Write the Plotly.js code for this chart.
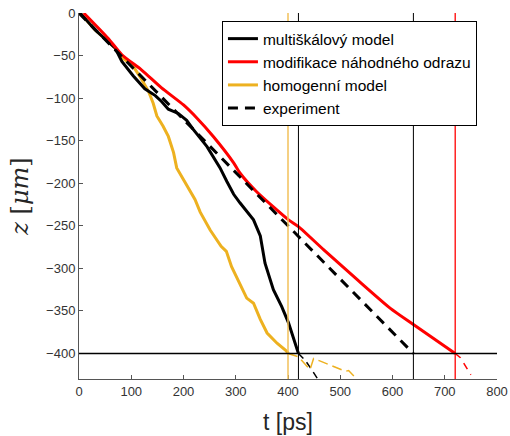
<!DOCTYPE html>
<html>
<head>
<meta charset="utf-8">
<script src="https://cdn.plot.ly/plotly-3.0.1.min.js"></script>
<style>html,body{margin:0;padding:0;background:#fff;}#chart{width:510px;height:436px;}</style>
</head>
<body>
<div id="chart"></div>
<script>
// multiškálový model
const tMulti = [2, 31, 69, 82, 104, 126, 146, 158, 171, 190, 206, 219, 245, 270, 283, 296, 308, 334, 347, 356, 372, 388, 401, 420];
const zMulti = [0, -20, -41, -57, -74, -89, -97, -104, -113, -118, -126, -137, -157, -182, -198, -213, -223, -243, -262, -294, -325, -345, -364, -400];
// modifikace náhodného odrazu
const tMod = [9, 56, 82, 120, 158, 200, 225, 257, 296, 308, 340, 401, 420, 468, 532, 596, 640, 720];
const zMod = [0, -30, -49, -67, -88, -108, -123, -145, -176, -188, -210, -243, -251, -278, -313, -347, -366, -400];
// homogenní model
const tHom = [2, 31, 69, 82, 104, 117, 133, 142, 149, 161, 171, 181, 187, 206, 222, 232, 251, 272, 282, 292, 308, 321, 334, 347, 360, 379, 395, 401];
const zHom = [0, -20, -41, -52, -63, -75, -92, -106, -121, -133, -145, -164, -182, -202, -219, -234, -255, -274, -280, -298, -318, -335, -341, -360, -376, -388, -396, -400];
// experiment
const tExp = [0, 160, 320, 480, 640];
const zExp = [0, -100, -200, -300, -400];
// continuations below the bottom
const tMultiCont = [420, 433, 443, 457];
const zMultiCont = [-400, -408, -417, -430];
const tModCont = [720, 730, 750];
const zModCont = [-400, -405, -425];
const tHomCont = [400, 420, 442, 449, 462, 510, 516, 530];
const zHomCont = [-400, -404, -419, -406, -409, -421, -420, -429];
// reference markers
const vLines = [400, 420, 640, 720];
const vColors = ['#F2C15A', '#000000', '#000000', '#FF0000'];
const hLine = -400;
const xTicks = [0, 100, 200, 300, 400, 500, 600, 700, 800];
const yTicks = [0, -50, -100, -150, -200, -250, -300, -350, -400];

const BLACK = '#000000', RED = '#FF0000', ORANGE = '#EDB120';
const traces = [
  {x: tHom, y: zHom, mode: 'lines', name: 'homogenní model', legendrank: 3, line: {color: ORANGE, width: 3}},
  {x: tMulti, y: zMulti, mode: 'lines', name: 'multiškálový model', legendrank: 1, line: {color: BLACK, width: 3}},
  {x: tMod, y: zMod, mode: 'lines', name: 'modifikace náhodného odrazu', legendrank: 2, line: {color: RED, width: 3, shape: 'spline', smoothing: 0.6}},
  {x: tExp, y: zExp, mode: 'lines', name: 'experiment', legendrank: 4, line: {color: BLACK, width: 3, dash: '10px,7px'}},
  {x: tMultiCont, y: zMultiCont, mode: 'lines', showlegend: false, line: {color: BLACK, width: 1.5, dash: '7px,5px'}},
  {x: tModCont, y: zModCont, mode: 'lines', showlegend: false, line: {color: RED, width: 1.5, dash: '7px,6px'}},
  {x: tHomCont, y: zHomCont, mode: 'lines', showlegend: false, line: {color: ORANGE, width: 1.5, dash: '10px,5px'}}
];

const shapes = vLines.map((v, i) => ({
  type: 'line', xref: 'x', yref: 'paper', x0: v, x1: v, y0: 0, y1: 1,
  line: {color: vColors[i], width: i === 0 ? 1.5 : (i === 3 ? 1.3 : 1)}, layer: 'above'
}));
shapes.push({type: 'line', xref: 'paper', yref: 'y', x0: 0, x1: 1, y0: hLine, y1: hLine,
  line: {color: BLACK, width: 1.5}, layer: 'above'});

const layout = {
  width: 510, height: 436,
  margin: {l: 79, r: 13, t: 13, b: 57},
  paper_bgcolor: '#fff', plot_bgcolor: '#fff',
  font: {family: 'Liberation Sans, Arial, sans-serif', color: '#262626'},
  showlegend: true,
  legend: {x: 0.342, y: 0.978, xanchor: 'left', yanchor: 'top', bgcolor: '#fff',
    bordercolor: '#000', borderwidth: 1, font: {size: 15.5, color: '#000'}, tracegroupgap: 0},
  xaxis: {range: [0, 800], tickvals: xTicks, ticks: 'inside', ticklen: 4, tickcolor: '#555',
    showline: true, linecolor: '#555', linewidth: 1, showgrid: false, zeroline: false,
    tickfont: {size: 13, color: '#333'},
    title: {text: 't [ps]', font: {size: 23, color: '#262626'}, standoff: 16}},
  yaxis: {range: [-430, 0], tickvals: yTicks, ticks: 'inside', ticklen: 4, tickcolor: '#555',
    showline: true, linecolor: '#555', linewidth: 1, showgrid: false, zeroline: false,
    tickfont: {size: 13, color: '#333'},
    title: {text: '<i>z</i> [<i>μm</i>]', font: {size: 24, family: 'DejaVu Serif, Liberation Serif, serif', color: '#262626'}, standoff: 10}},
  shapes: shapes
};
Plotly.newPlot('chart', traces, layout, {displayModeBar: false, staticPlot: true});
</script>
</body>
</html>
